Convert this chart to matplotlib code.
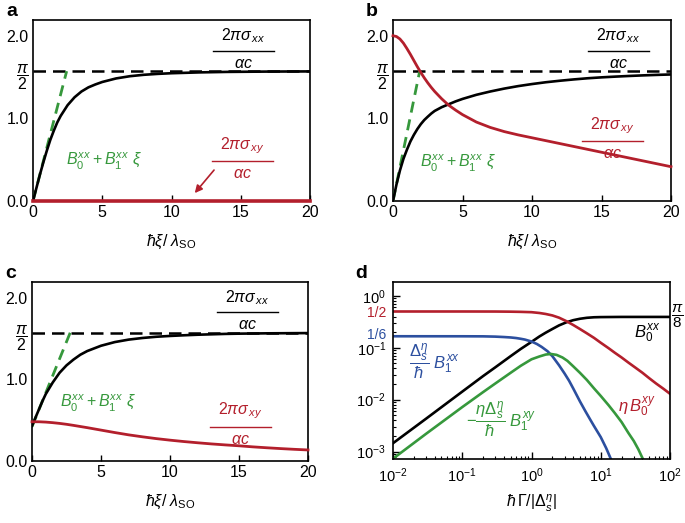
import numpy as np
import matplotlib
matplotlib.use("Agg")
import matplotlib.pyplot as plt

plt.rcParams['font.family'] = ['Liberation Sans', 'DejaVu Sans']
plt.rcParams['mathtext.fontset'] = 'custom'
plt.rcParams['mathtext.rm'] = 'Liberation Sans'
plt.rcParams['mathtext.it'] = 'Liberation Sans:italic'
plt.rcParams['mathtext.bf'] = 'Liberation Sans:bold'
plt.rcParams['font.size'] = 10.5

RED = '#b31f2c'
GREEN = '#36983c'
BLUE = '#2c4f9f'

# ---- panel a ----
a_x = [0, 0.25, 0.5, 0.75, 1, 1.25, 1.5, 1.75, 2, 2.5, 3, 3.5, 4, 4.5, 5, 6, 7, 8, 9, 10,
       12, 14, 17, 20]
a_xx = [0, 0.16, 0.32, 0.47, 0.61, 0.74, 0.85, 0.95, 1.03, 1.16, 1.255, 1.325, 1.375, 1.41,
        1.44, 1.483, 1.51, 1.527, 1.538, 1.546, 1.556, 1.562, 1.566, 1.568]
a_xy = [0.005] * len(a_x)
a_fit_x = [0, 2.43]
a_fit_y = [0, np.pi / 2]

# ---- panel b ----
b_x = [0, 0.25, 0.5, 0.75, 1, 1.25, 1.5, 1.75, 2, 2.25, 2.5, 2.75, 3, 3.5, 4, 4.5, 5, 6, 7, 8,
       9, 10, 11, 12, 13, 14, 15, 16, 17, 18, 19, 20]
b_xx = [0, 0.2, 0.37, 0.51, 0.62, 0.72, 0.8, 0.87, 0.93, 0.98, 1.02, 1.058, 1.09, 1.135, 1.17,
        1.205, 1.235, 1.285, 1.325, 1.36, 1.39, 1.415, 1.437, 1.455, 1.471, 1.485, 1.496,
        1.505, 1.513, 1.52, 1.526, 1.531]
b_xy = [2.0, 1.99, 1.96, 1.91, 1.845, 1.775, 1.7, 1.625, 1.555, 1.49, 1.43, 1.375, 1.325,
        1.237, 1.16, 1.1, 1.045, 0.955, 0.89, 0.84, 0.8, 0.765, 0.73, 0.695, 0.66, 0.625, 0.59,
        0.555, 0.52, 0.485, 0.45, 0.415]
b_fit_x = [0, 1.92]
b_fit_y = [0, np.pi / 2]

# ---- panel c ----
c_x = [0, 0.25, 0.5, 0.75, 1, 1.5, 2, 2.5, 3, 3.5, 4, 5, 6, 7, 8, 9, 10, 11, 12, 13, 14, 15,
       16, 17, 18, 19, 20]
c_xx = [0.43, 0.53, 0.63, 0.73, 0.82, 0.96, 1.08, 1.17, 1.24, 1.3, 1.345, 1.41, 1.455, 1.485,
        1.505, 1.52, 1.53, 1.538, 1.545, 1.55, 1.555, 1.558, 1.56, 1.562, 1.563, 1.564, 1.565]
c_xy = [0.48, 0.48, 0.48, 0.478, 0.476, 0.469, 0.46, 0.449, 0.436, 0.422, 0.408, 0.378, 0.348,
        0.32, 0.296, 0.274, 0.255, 0.238, 0.223, 0.209, 0.197, 0.186, 0.173, 0.162, 0.152,
        0.143, 0.135]
c_fit_x = [0, 2.77]
c_fit_y = [0.42, np.pi / 2]

# ---- panel d ----
d_black_x = [0.01, 0.03, 0.1, 0.2, 0.3, 0.5, 0.7, 1, 1.3, 1.6, 2, 2.5, 3.2, 4, 5, 6.3, 8, 10,
             20, 100]
d_black_y = [1.45e-3, 4.3e-3, 0.0143, 0.0285, 0.042, 0.069, 0.095, 0.13, 0.165, 0.195, 0.23,
             0.27, 0.31, 0.34, 0.362, 0.378, 0.387, 0.39, 0.393, 0.393]
d_red_x = [0.01, 0.1, 0.3, 0.5, 0.7, 1, 1.3, 1.6, 2, 2.5, 3.2, 4, 5, 6.3, 8, 10, 13, 16, 20,
           25, 32, 40, 50, 63, 80, 100]
d_red_y = [0.5, 0.5, 0.499, 0.496, 0.492, 0.485, 0.468, 0.448, 0.42, 0.38, 0.325, 0.275, 0.23,
           0.19, 0.155, 0.125, 0.098, 0.08, 0.065, 0.052, 0.041, 0.033, 0.026, 0.0205, 0.0163,
           0.013]
d_blue_x = [0.01, 0.1, 0.2, 0.3, 0.4, 0.5, 0.6, 0.7, 0.8, 1, 1.2, 1.4, 1.7, 2, 2.5, 3, 3.5, 4,
            5, 6, 7, 8, 10, 12, 14, 16]
d_blue_y = [0.1667, 0.1665, 0.166, 0.164, 0.161, 0.158, 0.154, 0.149, 0.144, 0.132, 0.118,
            0.104, 0.086, 0.069, 0.046, 0.032, 0.023, 0.0165, 0.0093, 0.006, 0.0042, 0.0031,
            0.0019, 0.00116, 7.2e-4, 4.6e-4]
d_green_x = [0.01, 0.03, 0.1, 0.2, 0.3, 0.5, 0.7, 1, 1.3, 1.6, 1.9, 2.3, 2.8, 3.3, 4, 5, 6.3,
             8, 10, 13, 16, 20, 25, 30, 35, 40, 45]
d_green_y = [7.3e-4, 2.2e-3, 7.2e-3, 0.014, 0.0205, 0.033, 0.045, 0.06, 0.068, 0.074, 0.076,
             0.073, 0.065, 0.056, 0.044, 0.033, 0.024, 0.0165, 0.0118, 0.0078, 0.0055, 0.0037,
             0.0023, 0.0016, 0.0011, 7.5e-4, 5.5e-4]

ylim_top = 2.19
W, H = 685, 523


def frac_label(ax, xc, y_line, half, num, den, color):
    ax.text(xc, y_line + 0.07, num, color=color, ha='center', va='bottom', fontsize=11.5)
    ax.text(xc, y_line - 0.06, den, color=color, ha='center', va='top', fontsize=11.5)
    ax.plot([xc - half, xc + half], [y_line, y_line], color=color, lw=1.0)


def sigma_panel(rect, letter, x, xx, xy, fit_x, fit_y, xx_lab, xy_lab, green_lab):
    l, b, r, t = rect
    ax = fig.add_axes([l / W, 1 - b / H, (r - l) / W, (b - t) / H])
    ax.axhline(np.pi / 2, color='black', lw=1.8, ls=(0, (5, 2.8)), zorder=2)
    ax.plot(fit_x, fit_y, color=GREEN, lw=2.0, ls=(0, (4, 2.5)), zorder=3)
    ax.plot(x, xx, color='black', lw=1.9, zorder=4)
    ax.plot(x, xy, color=RED, lw=2.0 if letter != 'a' else 2.6, zorder=5, clip_on=False)
    ax.set_xlim(0, 20)
    ax.set_ylim(0, ylim_top)
    ax.set_xticks([0, 5, 10, 15, 20])
    ax.set_yticks([0, 1, np.pi / 2, 2])
    ax.set_yticklabels(['0.0', '1.0', r'$\dfrac{\pi}{2}$', '2.0'])
    ax.tick_params(direction='in', length=4, width=1.0, labelsize=11.5, pad=3)
    ax.tick_params(axis='y', which='major', length=0)
    for s in ax.spines.values():
        s.set_linewidth(1.2)
    ax.set_xlabel(r'$\hbar\xi$/ $\lambda_{\mathrm{SO}}$', fontsize=11.5, labelpad=9)
    frac_label(ax, xx_lab[0], xx_lab[1], 2.2, r'$2\pi\sigma_{\,xx}$', r'$\alpha c$', 'black')
    frac_label(ax, xy_lab[0], xy_lab[1], 2.2, r'$2\pi\sigma_{\,xy}$', r'$\alpha c$', RED)
    ax.text(green_lab[0], green_lab[1], r'$B_0^{xx}+B_1^{xx}\ \xi$', color=GREEN,
            ha='center', va='center', fontsize=11.5)
    fig.text((l - 27) / W, 1 - (t - 8) / H, letter, fontsize=14, fontweight='bold',
             ha='left', va='center')
    return ax


fig = plt.figure(figsize=(6.85, 5.23), dpi=100)

ax_a = sigma_panel((33, 201, 310, 20), 'a', a_x, a_xx, a_xy, a_fit_x, a_fit_y,
                   (15.2, 1.82), (15.1, 0.48), (5.1, 0.48))
ax_a.annotate('', xy=(11.55, 0.07), xytext=(13.2, 0.40),
              arrowprops=dict(arrowstyle='-|>', color=RED, lw=1.2, mutation_scale=11))

ax_b = sigma_panel((393, 201, 671, 20), 'b', b_x, b_xx, b_xy, b_fit_x, b_fit_y,
                   (16.2, 1.82), (15.8, 0.72), (4.7, 0.46))

ax_c = sigma_panel((32, 461, 308, 282), 'c', c_x, c_xx, c_xy, c_fit_x, c_fit_y,
                   (15.6, 1.82), (15.1, 0.42), (4.8, 0.70))

# ---- panel d ----
l, b, r, t = 393, 459, 670, 282
ax_d = fig.add_axes([l / W, 1 - b / H, (r - l) / W, (b - t) / H])
ax_d.plot(d_black_x, d_black_y, color='black', lw=1.9)
ax_d.plot(d_red_x, d_red_y, color=RED, lw=1.9)
ax_d.plot(d_blue_x, d_blue_y, color=BLUE, lw=1.9)
ax_d.plot(d_green_x, d_green_y, color=GREEN, lw=1.9)
ax_d.set_xscale('log')
ax_d.set_yscale('log')
ax_d.set_xlim(1e-2, 1e2)
ax_d.set_ylim(7.2e-4, 1.85)
ax_d.set_xticks([1e-2, 1e-1, 1, 1e1, 1e2])
ax_d.set_yticks([1e-3, 1e-2, 1e-1, 1])
ax_d.tick_params(which='both', direction='in', labelsize=10.5)
ax_d.tick_params(which='major', length=5, width=1.0, pad=5)
ax_d.tick_params(which='minor', length=2.5, width=0.8)
for s in ax_d.spines.values():
    s.set_linewidth(1.2)
ax_d.set_xlabel(r'$\hbar\,\Gamma/|\Delta_s^{\eta}|$', fontsize=11.5, labelpad=6)

trans = ax_d.get_yaxis_transform()
ax_d.text(-0.025, 0.47, '1/2', color=RED, transform=trans, ha='right', va='center',
          fontsize=10)
ax_d.text(-0.025, 0.18, '1/6', color=BLUE, transform=trans, ha='right', va='center',
          fontsize=10)
ax_d.text(1.005, np.pi / 8, r'$\dfrac{\pi}{8}$', transform=trans, ha='left', va='center',
          fontsize=11)
ax_d.text(46, 0.19, r'$B_0^{xx}$', color='black', ha='center', va='center', fontsize=12)
ax_d.text(33, 0.0074, r'$\eta\,B_0^{xy}$', color=RED, ha='center', va='center', fontsize=12)
ax_d.text(0.04, 0.056, r'$\dfrac{\Delta_s^{\eta}}{\hbar}\ B_1^{xx}$', color=BLUE,
          ha='center', va='center', fontsize=12)
ax_d.text(0.37, 0.0042, r'$-\dfrac{\eta\Delta_s^{\eta}}{\hbar}\ B_1^{xy}$', color=GREEN,
          ha='center', va='center', fontsize=12)
fig.text((l - 38) / W, 1 - (t - 9) / H, 'd', fontsize=14, fontweight='bold',
         ha='left', va='center')

fig.savefig('out.png', dpi=100)
